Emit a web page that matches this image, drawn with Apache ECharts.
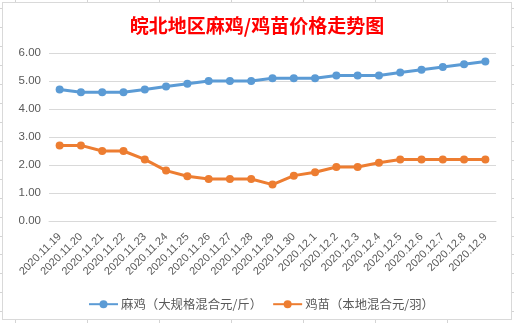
<!DOCTYPE html>
<html><head><meta charset="utf-8">
<script src="https://cdn.jsdelivr.net/npm/echarts@6/dist/echarts.min.js"></script>
<style>
html,body{margin:0;padding:0;background:#fff;}
#wrap{position:relative;width:514px;height:323px;overflow:hidden;
background-color:#fff;
background-image:
 repeating-linear-gradient(to right, transparent 0px, transparent 15px, #d4d4d4 15px, #d4d4d4 16px, transparent 16px, transparent 72px),
 repeating-linear-gradient(to bottom, transparent 0px, transparent 8px, #d4d4d4 8px, #d4d4d4 9px, transparent 9px, transparent 18.96px);
}
#box{position:absolute;left:2px;top:2px;width:508px;height:316px;background:#fff;border:1px solid #d9d9d9;}
#chart{position:absolute;left:0;top:0;width:514px;height:323px;}
</style>
</head><body>
<div id="wrap"><div id="box"></div><div id="chart"></div></div>
<script>
const titleText = '皖北地区麻鸡/鸡苗价格走势图';
const categories = ['2020.11.19','2020.11.20','2020.11.21','2020.11.22','2020.11.23','2020.11.24','2020.11.25','2020.11.26','2020.11.27','2020.11.28','2020.11.29','2020.11.30','2020.12.1','2020.12.2','2020.12.3','2020.12.4','2020.12.5','2020.12.6','2020.12.7','2020.12.8','2020.12.9'];
const seriesNames = ['麻鸡（大规格混合元/斤）','鸡苗（本地混合元/羽）'];
const maji = [4.7,4.6,4.6,4.6,4.7,4.8,4.9,5.0,5.0,5.0,5.1,5.1,5.1,5.2,5.2,5.2,5.3,5.4,5.5,5.6,5.7];
const jimiao = [2.7,2.7,2.5,2.5,2.2,1.8,1.6,1.5,1.5,1.5,1.3,1.62,1.74,1.93,1.93,2.08,2.2,2.2,2.2,2.2,2.2];

const chart = echarts.init(document.getElementById('chart'), null, {renderer:'canvas'});
const txt = '#595959';
const fam = 'Liberation Sans, Arial, "Noto Sans CJK SC", sans-serif';
const cjk = '"Noto Sans CJK SC", sans-serif';
chart.setOption({
  backgroundColor:'transparent',
  animation:false,
  title:{text:titleText,left:'center',top:11,textStyle:{color:'#ff0000',fontSize:19,fontWeight:'bold',fontFamily:cjk}},
  legend:{left:83,top:293,itemWidth:29,itemHeight:10,itemGap:10,
    textStyle:{color:txt,fontSize:12.4,fontFamily:cjk,padding:[0,0,0,-2]},
    data:seriesNames},
  grid:{left:49,right:18,top:53,bottom:102,containLabel:false},
  xAxis:{type:'category',data:categories,boundaryGap:true,
    axisLine:{lineStyle:{color:'#d9d9d9',width:1}},
    axisTick:{show:false},
    axisLabel:{rotate:45,interval:0,fontSize:11,color:txt,fontFamily:fam,margin:14}},
  yAxis:{type:'value',min:0,max:6,interval:1,
    axisLine:{show:false},axisTick:{show:false},
    splitLine:{lineStyle:{color:'#d9d9d9',width:1}},
    axisLabel:{formatter:v=>v.toFixed(2),fontSize:11.5,color:txt,fontFamily:fam,margin:8}},
  series:[
    {name:seriesNames[0],type:'line',data:maji,symbol:'circle',symbolSize:8,
      lineStyle:{color:'#5b9bd5',width:3},itemStyle:{color:'#5b9bd5',borderWidth:0}},
    {name:seriesNames[1],type:'line',data:jimiao,symbol:'circle',symbolSize:8,
      lineStyle:{color:'#ed7d31',width:3},itemStyle:{color:'#ed7d31',borderWidth:0}}
  ]
});
</script>
</body></html>
